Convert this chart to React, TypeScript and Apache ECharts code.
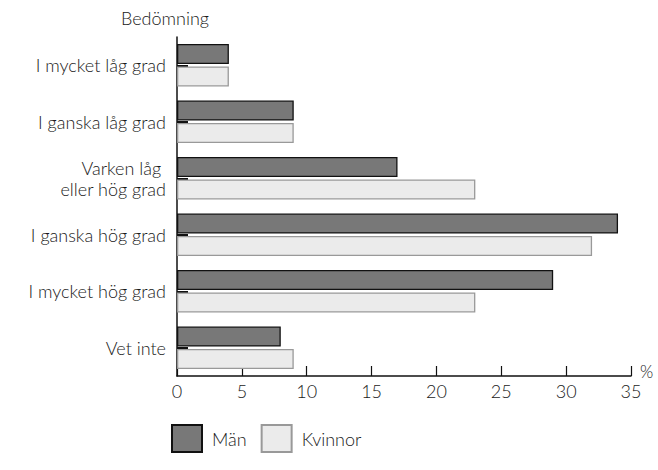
import React, { useEffect, useRef } from "react";
import * as echarts from "echarts";

const categories = [
  "I mycket låg grad",
  "I ganska låg grad",
  "Varken låg \neller hög grad",
  "I ganska hög grad",
  "I mycket hög grad",
  "Vet inte",
];
const man = [4, 9, 17, 34, 29, 8];
const kvinnor = [4, 9, 23, 32, 23, 9];
const xTicks = [0, 5, 10, 15, 20, 25, 30, 35];
const xUnit = "%";
const yTitle = "Bedömning";

const FONT = "Lato";
const FS = 18;
const FW = 300;
const TXT = "#1a1a1a";

export default function App() {
  const ref = useRef<HTMLDivElement>(null);
  useEffect(() => {
    document.documentElement.style.overflow = "hidden";
    document.body.style.margin = "0";
    const chart = echarts.init(ref.current!, undefined, { renderer: "svg" });
    chart.setOption({
      animation: false,
      textStyle: { fontFamily: FONT, color: TXT, fontWeight: FW },
      grid: { left: 177, right: 27, top: 37, bottom: 94, outerBoundsMode: "none", containLabel: false },
      graphic: [
        {
          type: "text",
          x: 165,
          y: 18,
          style: {
            text: yTitle,
            fontFamily: FONT,
            fontSize: FS,
            fontWeight: FW,
            fill: TXT,
            textAlign: "center",
            textVerticalAlign: "middle",
          },
        },
        {
          type: "text",
          x: 640,
          y: 371,
          style: {
            text: xUnit,
            fontFamily: FONT,
            fontSize: 17,
            fontWeight: FW,
            fill: TXT,
            textAlign: "left",
            textVerticalAlign: "middle",
          },
        },
      ],
      legend: {
        bottom: 12,
        left: 166,
        icon: "rect",
        itemWidth: 30,
        itemHeight: 27,
        itemGap: 14,
        textStyle: { fontFamily: FONT, fontSize: FS, fontWeight: FW, color: TXT, padding: [0, 0, 0, 5] },
        data: ["Män", "Kvinnor"],
      },
      xAxis: {
        type: "value",
        min: 0,
        max: 35,
        interval: 5,
        axisLine: { show: true, lineStyle: { color: "#111", width: 1.5 } },
        axisTick: { show: true, inside: true, length: 10, lineStyle: { color: "#111", width: 1.2 } },
        axisLabel: {
          fontFamily: FONT,
          fontSize: FS,
          fontWeight: FW,
          color: TXT,
          margin: 6,
          formatter: (v: number) => (xTicks.includes(v) ? String(v) : ""),
        },
        splitLine: { show: false },
      },
      yAxis: {
        type: "category",
        inverse: true,
        data: categories,
        axisLine: { show: true, lineStyle: { color: "#111", width: 1.5 } },
        axisTick: { show: true, inside: true, alignWithLabel: true, length: 11, lineStyle: { color: "#111", width: 2 } },
        axisLabel: {
          fontFamily: FONT,
          fontSize: FS,
          fontWeight: FW,
          color: TXT,
          margin: 11,
          lineHeight: 21,
          align: "right",
        },
      },
      series: [
        {
          name: "Män",
          type: "bar",
          data: man,
          barWidth: 20,
          barGap: "12%",
          z: 1,
          itemStyle: { color: "#787878", borderColor: "#111", borderWidth: 1.3 },
        },
        {
          name: "Kvinnor",
          type: "bar",
          data: kvinnor,
          barWidth: 20,
          z: 1,
          itemStyle: { color: "#ebebeb", borderColor: "#999", borderWidth: 1.3 },
        },
      ],
    });
    return () => chart.dispose();
  }, []);
  return <div ref={ref} style={{ width: 658, height: 470 }} />;
}
